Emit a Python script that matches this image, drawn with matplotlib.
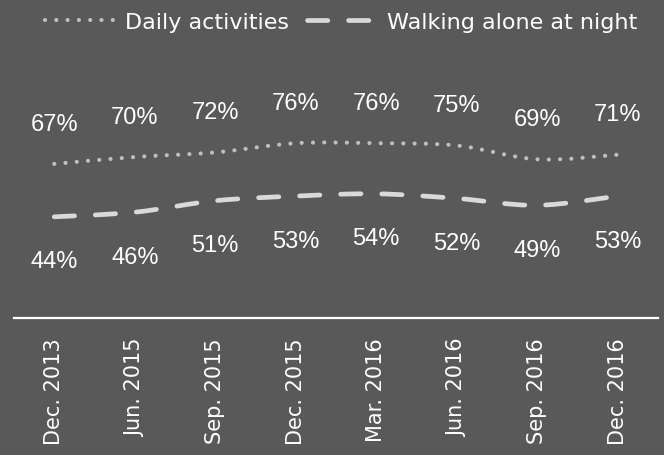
import numpy as np
import matplotlib
matplotlib.use('Agg')
import matplotlib.pyplot as plt
from matplotlib.path import Path
from matplotlib.patches import PathPatch
from matplotlib.lines import Line2D

periods = ['Dec. 2013', 'Jun. 2015', 'Sep. 2015', 'Dec. 2015',
           'Mar. 2016', 'Jun. 2016', 'Sep. 2016', 'Dec. 2016']
daily = [67, 70, 72, 76, 76, 75, 69, 71]
night = [44, 46, 51, 53, 54, 52, 49, 53]

bg = '#595959'
daily_color = '#bfbfbf'
night_color = '#d9d9d9'
dot_ls = (0, (0.01, 2.7))
dash_ls = (0, (4.3, 4.4))


def smooth_path(xs, ys):
    # catmull-rom style bezier handles, like excel's smoothed line
    xs = np.asarray(xs, dtype=float)
    ys = np.asarray(ys, dtype=float)
    pts = np.column_stack([xs, ys])
    n = len(pts)
    verts = [pts[0]]
    codes = [Path.MOVETO]
    for i in range(n - 1):
        p0 = pts[max(i - 1, 0)]
        p1 = pts[i]
        p2 = pts[i + 1]
        p3 = pts[min(i + 2, n - 1)]
        c1 = p1 + (p2 - p0) / 6.0
        c2 = p2 - (p3 - p1) / 6.0
        verts += [c1, c2, p2]
        codes += [Path.CURVE4] * 3
    return Path(verts, codes)


fig = plt.figure(figsize=(6.64, 4.56), dpi=100, facecolor=bg)
ax = fig.add_axes([14 / 664, 137 / 456, 644 / 664, 276 / 456])
ax.set_facecolor(bg)

x = np.arange(len(periods))

ax.add_patch(PathPatch(smooth_path(x, daily), fill=False, edgecolor=daily_color,
                       lw=3.0, linestyle=dot_ls, capstyle='round'))
ax.add_patch(PathPatch(smooth_path(x, night), fill=False, edgecolor=night_color,
                       lw=3.4, linestyle=dash_ls, capstyle='round'))

label_font = dict(family='Liberation Sans', stretch='normal', size=17)
for xi, v in zip(x, daily):
    ax.annotate(f'{v}%', (xi, v), xytext=(0, 29), textcoords='offset points',
                ha='center', va='center', color='white', **label_font)
for xi, v in zip(x, night):
    ax.annotate(f'{v}%', (xi, v), xytext=(0, -32), textcoords='offset points',
                ha='center', va='center', color='white', **label_font)

ax.set_xlim(-0.5, len(periods) - 0.5)
ax.set_ylim(0, 120)
ax.set_xticks(x)
ax.set_xticklabels(periods, rotation=90, color='white', fontsize=15,
                   family='DejaVu Sans')
ax.tick_params(axis='x', length=0, pad=14)
ax.set_yticks([])
for side in ['top', 'left', 'right']:
    ax.spines[side].set_visible(False)
ax.spines['bottom'].set_color('white')
ax.spines['bottom'].set_linewidth(1.6)

handles = [
    Line2D([], [], color=daily_color, lw=3.0, linestyle=dot_ls,
           dash_capstyle='round'),
    Line2D([], [], color=night_color, lw=3.4, linestyle=dash_ls,
           dash_capstyle='round'),
]
leg = fig.legend(handles, ['Daily activities', 'Walking alone at night'],
                 loc='center', bbox_to_anchor=(0.514, 1 - 23 / 456), ncol=2,
                 frameon=False, fontsize=16, handlelength=3.2,
                 handletextpad=0.4, columnspacing=0.8)
for t in leg.get_texts():
    t.set_color('white')

fig.savefig('out.png', dpi=100, facecolor=bg)
